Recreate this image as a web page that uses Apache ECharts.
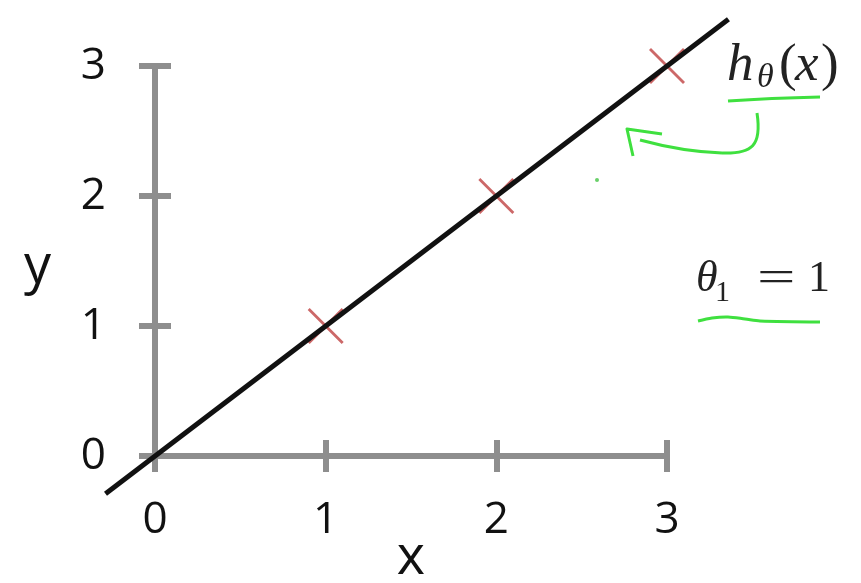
<!DOCTYPE html>
<html>
<head>
<meta charset="utf-8">
<script src="https://cdn.jsdelivr.net/npm/echarts@6/dist/echarts.min.js"></script>
<style>html,body{margin:0;padding:0;background:#fff}#c{width:861px;height:583px}</style>
</head>
<body>
<div id="c"></div>
<script>
// ---- data ----
var xTicks = [0, 1, 2, 3];
var yTicks = [0, 1, 2, 3];
var pointsX = [1, 2, 3];
var pointsY = [1, 2, 3];
var lineX = [-0.29, 3.36];
var lineY = [-0.29, 3.36];

var AX = '#8e8e8e';
var GREEN = '#3fe03f';
var crossPath = 'path://M0,2L2,0L18,16L34,0L36,2L20,18L36,34L34,36L18,20L2,36L0,34L16,18Z';

// main plot box (pixels)
var W = 861, H = 583;
var G = { left: 155, right: 194, top: 66, bottom: 127 };
var x0 = xTicks[0], x1 = xTicks[xTicks.length - 1];
var y0 = yTicks[0], y1 = yTicks[yTicks.length - 1];
var pxX = (W - G.left - G.right) / (x1 - x0);
var pxY = (H - G.top - G.bottom) / (y1 - y0);
// second (invisible) grid sharing the same scale, covering the full extent of the fitted line
var G2 = {
  left: G.left + (lineX[0] - x0) * pxX,
  right: G.right - (lineX[1] - x1) * pxX,
  top: G.top - (lineY[1] - y1) * pxY,
  bottom: G.bottom + (lineY[0] - y0) * pxY
};

var chart = echarts.init(document.getElementById('c'));
var labelFont = { fontSize: 44, color: '#111', fontFamily: 'Open Sans' };

function hiddenAxis(extra) {
  return Object.assign({
    type: 'value', show: false, splitLine: { show: false }
  }, extra);
}

chart.setOption({
  animation: false,
  grid: [
    Object.assign({ containLabel: false, outerBoundsMode: 'none' }, G),
    Object.assign({ containLabel: false, outerBoundsMode: 'none', show: false }, G2)
  ],
  xAxis: [
    {
      type: 'value', gridIndex: 0, min: x0, max: x1, interval: 1, position: 'bottom',
      splitLine: { show: false },
      axisLine: { onZero: false, lineStyle: { color: AX, width: 6 } },
      axisTick: { length: 16, lineStyle: { color: AX, width: 6 } },
      axisLabel: Object.assign({ margin: 42 }, labelFont),
      name: 'x', nameLocation: 'middle', nameGap: 76, nameMoveOverlap: false,
      nameTextStyle: { fontSize: 54, color: '#111', fontFamily: 'Open Sans' }
    },
    {
      type: 'value', gridIndex: 0, min: x0, max: x1, interval: 1, position: 'bottom',
      splitLine: { show: false },
      axisLine: { show: false, onZero: false },
      axisTick: { inside: true, length: 16, lineStyle: { color: AX, width: 6 } },
      axisLabel: { show: false }
    },
    hiddenAxis({ gridIndex: 1, min: lineX[0], max: lineX[1] })
  ],
  yAxis: [
    {
      type: 'value', gridIndex: 0, min: y0, max: y1, interval: 1, position: 'left',
      splitLine: { show: false },
      axisLine: { onZero: false, lineStyle: { color: AX, width: 6 } },
      axisTick: { length: 16, lineStyle: { color: AX, width: 6 } },
      axisLabel: Object.assign({ margin: 49 }, labelFont)
    },
    {
      type: 'value', gridIndex: 0, min: y0, max: y1, interval: 1, position: 'left',
      splitLine: { show: false },
      axisLine: { show: false, onZero: false },
      axisTick: { inside: true, length: 16, lineStyle: { color: AX, width: 6 } },
      axisLabel: { show: false }
    },
    hiddenAxis({ gridIndex: 1, min: lineY[0], max: lineY[1] })
  ],
  series: [
    {
      type: 'scatter', xAxisIndex: 0, yAxisIndex: 0,
      data: pointsX.map(function (x, i) { return [x, pointsY[i]]; }),
      symbol: crossPath, symbolSize: 36,
      itemStyle: { color: '#c65858', opacity: 0.9 },
      z: 2
    },
    {
      type: 'line', xAxisIndex: 2, yAxisIndex: 2,
      data: lineX.map(function (x, i) { return [x, lineY[i]]; }),
      showSymbol: false, symbol: 'none', clip: false,
      lineStyle: { color: '#111', width: 5 },
      z: 5
    }
  ],
  graphic: [
    // y axis title
    { type: 'text', style: { text: 'y', x: 51, y: 268, font: '54px "Open Sans"', fill: '#111', align: 'right', textAlign: 'right', verticalAlign: 'middle', textVerticalAlign: 'middle' } },
    // h_theta(x)
    { type: 'text', style: { text: 'h', x: 727, y: 66, font: 'italic 53px "Liberation Serif"', fill: '#222', verticalAlign: 'middle', textVerticalAlign: 'middle' } },
    { type: 'text', style: { text: 'θ', x: 757, y: 78, font: 'italic 34px "Liberation Serif"', fill: '#222', verticalAlign: 'middle', textVerticalAlign: 'middle' } },
    { type: 'text', style: { text: '(', x: 779, y: 66, font: '53px "Liberation Serif"', fill: '#222', verticalAlign: 'middle', textVerticalAlign: 'middle' } },
    { type: 'text', style: { text: 'x', x: 795, y: 66, font: 'italic 53px "Liberation Serif"', fill: '#222', verticalAlign: 'middle', textVerticalAlign: 'middle' } },
    { type: 'text', style: { text: ')', x: 821, y: 66, font: '53px "Liberation Serif"', fill: '#222', verticalAlign: 'middle', textVerticalAlign: 'middle' } },
    // theta_1 = 1
    { type: 'text', style: { text: 'θ', x: 696, y: 279, font: 'italic 44px "Liberation Serif"', fill: '#222', verticalAlign: 'middle', textVerticalAlign: 'middle' } },
    { type: 'text', style: { text: '1', x: 715, y: 293, font: '30px "Liberation Serif"', fill: '#222', verticalAlign: 'middle', textVerticalAlign: 'middle' } },
    { type: 'text', x: 757, y: 279, scaleX: 1.55, style: { text: '=', x: 0, y: 0, font: '44px "Liberation Serif"', fill: '#222', verticalAlign: 'middle', textVerticalAlign: 'middle' } },
    { type: 'text', style: { text: '1', x: 808, y: 279, font: '44px "Liberation Serif"', fill: '#222', verticalAlign: 'middle', textVerticalAlign: 'middle' } },
    // green annotations
    { type: 'bezierCurve', shape: { x1: 728, y1: 101, x2: 820, y2: 97, cpx1: 770, cpy1: 98 }, style: { stroke: GREEN, lineWidth: 3, fill: null } },
    { type: 'polyline', shape: { points: [[698, 321], [712, 318], [728, 317], [745, 319], [760, 321], [820, 322]], smooth: 0.3 }, style: { stroke: GREEN, lineWidth: 3, fill: null } },
    { type: 'bezierCurve', shape: { x1: 757, y1: 113, x2: 722, y2: 153, cpx1: 762, cpy1: 146, cpx2: 752, cpy2: 154 }, style: { stroke: GREEN, lineWidth: 3, fill: null } },
    { type: 'bezierCurve', shape: { x1: 722, y1: 153, x2: 640, y2: 140, cpx1: 692, cpy1: 152, cpx2: 662, cpy2: 146 }, style: { stroke: GREEN, lineWidth: 3, fill: null } },
    { type: 'polyline', shape: { points: [[633, 156], [627, 129], [662, 134]] }, style: { stroke: GREEN, lineWidth: 3, fill: null, lineJoin: 'round' } },
    { type: 'circle', shape: { cx: 597, cy: 180, r: 2 }, style: { fill: '#6ad06a' } }
  ]
});
</script>
</body>
</html>
